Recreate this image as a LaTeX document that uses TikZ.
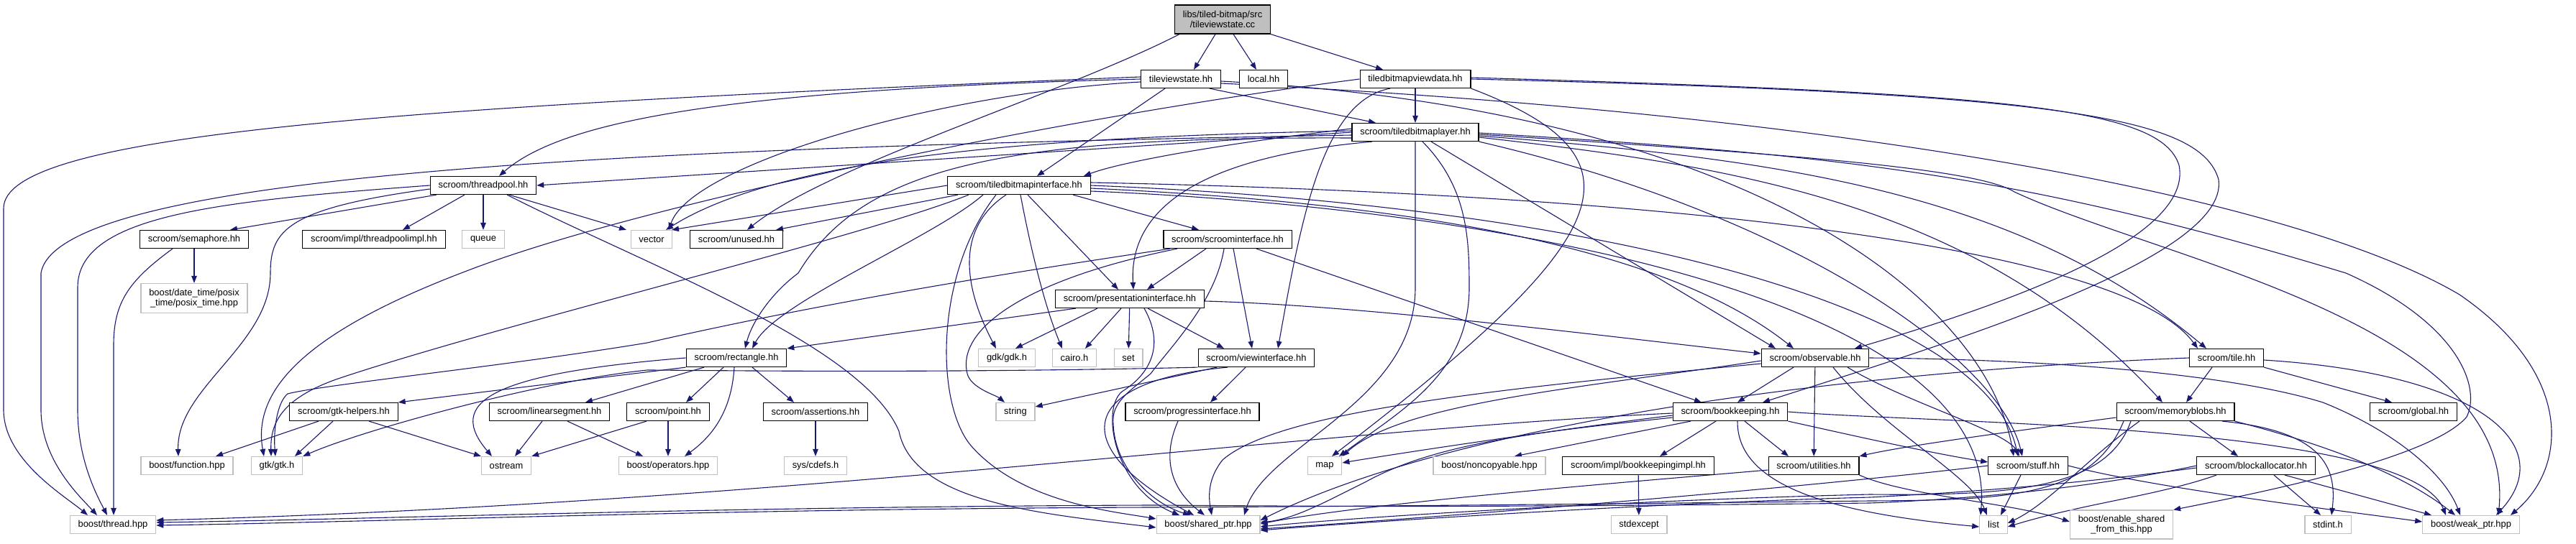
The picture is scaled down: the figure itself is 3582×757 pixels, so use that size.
\documentclass[tikz,border=0pt]{standalone}
\usepackage{fontspec}
\setmainfont{Liberation Sans}
\usetikzlibrary{arrows.meta,backgrounds}
\definecolor{edgeblue}{RGB}{25,25,112}
\definecolor{sysgray}{RGB}{191,191,191}

\begin{document}
\begin{tikzpicture}[x=1pt,y=1pt,font=\fontsize{12.9}{14.5}\selectfont,
  hdr/.style={draw=black,line width=1.2pt,fill=white,inner xsep=11.3pt,inner ysep=2pt,minimum height=25pt},
  syshdr/.style={hdr,draw=sysgray},
  srcfile/.style={hdr,fill=sysgray,align=center,minimum height=40pt},
  inc/.style={draw=edgeblue,line width=1.1pt,-{Triangle[length=10pt,width=7.5pt]}}]
\useasboundingbox (0,0) rectangle (3582,-757);

% files, row by row
\node[srcfile] (root) at (1700,-27) {libs/tiled-bitmap/src\\/tileviewstate.cc};
\node[hdr] (tvs) at (1642,-110) {tileviewstate.hh};
\node[hdr] (local) at (1757,-110) {local.hh};
\node[hdr] (tbvd) at (1968,-110) {tiledbitmapviewdata.hh};
\node[hdr] (tbl) at (1968,-184) {scroom/tiledbitmaplayer.hh};
\node[hdr] (tp) at (672,-258) {scroom/threadpool.hh};
\node[hdr] (tbi) at (1417,-258) {scroom/tiledbitmapinterface.hh};
\node[hdr] (sem) at (270,-333) {scroom/semaphore.hh};
\node[hdr] (tpi) at (520,-333) {scroom/impl/threadpoolimpl.hh};
\node[syshdr] (queue) at (672,-333) {queue};
\node[syshdr] (vector) at (906,-333) {vector};
\node[hdr] (unused) at (1024,-333) {scroom/unused.hh};
\node[hdr] (si) at (1707,-333) {scroom/scroominterface.hh};
\node[syshdr,align=center,minimum height=41pt] (dt) at (270,-415) {boost/date\_time/posix\\\_time/posix\_time.hpp};
\node[hdr] (pi) at (1571,-416) {scroom/presentationinterface.hh};
\node[hdr] (rect) at (1024,-498) {scroom/rectangle.hh};
\node[syshdr] (gdk) at (1400,-498) {gdk/gdk.h};
\node[syshdr] (cairo) at (1494,-498) {cairo.h};
\node[syshdr] (set) at (1569,-498) {set};
\node[hdr] (vi) at (1747,-498) {scroom/viewinterface.hh};
\node[hdr] (obs) at (2524,-498) {scroom/observable.hh};
\node[hdr] (tile) at (3096,-498) {scroom/tile.hh};
\node[hdr] (gtkh) at (478,-573) {scroom/gtk-helpers.hh};
\node[hdr] (lseg) at (764,-573) {scroom/linearsegment.hh};
\node[hdr] (point) at (929,-573) {scroom/point.hh};
\node[hdr] (assert) at (1134,-573) {scroom/assertions.hh};
\node[syshdr] (string) at (1412,-573) {string};
\node[hdr] (prog) at (1658,-573) {scroom/progressinterface.hh};
\node[hdr] (bk) at (2406,-573) {scroom/bookkeeping.hh};
\node[hdr] (mb) at (3025,-573) {scroom/memoryblobs.hh};
\node[hdr] (global) at (3356,-573) {scroom/global.hh};
\node[syshdr] (func) at (260,-648) {boost/function.hpp};
\node[syshdr] (gtk) at (385,-648) {gtk/gtk.h};
\node[syshdr] (ostream) at (704,-648) {ostream};
\node[syshdr] (ops) at (929,-648) {boost/operators.hpp};
\node[syshdr] (cdefs) at (1134,-648) {sys/cdefs.h};
\node[syshdr] (map) at (1842,-648) {map};
\node[syshdr] (nonc) at (2071,-648) {boost/noncopyable.hpp};
\node[hdr] (bki) at (2278,-648) {scroom/impl/bookkeepingimpl.hh};
\node[hdr] (util) at (2522,-648) {scroom/utilities.hh};
\node[hdr] (stuff) at (2820,-648) {scroom/stuff.hh};
\node[hdr] (ba) at (3137,-648) {scroom/blockallocator.hh};
\node[syshdr] (thread) at (157,-730) {boost/thread.hpp};
\node[syshdr] (sp) at (1680,-730) {boost/shared\_ptr.hpp};
\node[syshdr] (stdexcept) at (2279,-730) {stdexcept};
\node[syshdr] (list) at (2772,-730) {list};
\node[syshdr,align=center,minimum height=40pt] (esft) at (2950,-730) {boost/enable\_shared\\\_from\_this.hpp};
\node[syshdr] (stdint) at (3237,-730) {stdint.h};
\node[syshdr] (wp) at (3436,-730) {boost/weak\_ptr.hpp};

\begin{scope}[on background layer]
% tileviewstate.cc
\draw[inc] ([xshift=-10pt]root.south) -- ([xshift=18pt]tvs.north);
\draw[inc] ([xshift=15pt]root.south) -- ([xshift=-10pt]local.north);
\draw[inc] (root.south east) -- ([xshift=-45pt]tbvd.north);
\draw[inc] ([xshift=-60pt]root.south) .. controls (1480,-130) and (1150,-230) .. ([xshift=15pt]unused.north);
% tileviewstate.hh
\draw[inc] ([xshift=40pt]tvs.south) -- ([xshift=-55pt]tbl.north);
\draw[inc] ([xshift=-22pt]tvs.south) -- ([xshift=25pt]tbi.north);
\draw[inc] ([yshift=3pt]tvs.west) .. controls (500,-150) and (5,-190) .. (5,-290) -- (5,-570) .. controls (5,-640) and (90,-690) .. ([xshift=-35pt]thread.north);
\draw[inc] (tvs.west) .. controls (1000,-125) and (780,-170) .. ([xshift=22pt]tp.north);
\draw[inc] ([yshift=-4pt]tvs.west) .. controls (1300,-130) and (960,-230) .. ([xshift=24pt]vector.north);
\draw[inc] ([yshift=-3pt]tvs.east) .. controls (2400,-150) and (2760,-400) .. ([xshift=-20pt]stuff.north);
\draw[inc] ([yshift=-6pt]tvs.east) .. controls (2600,-160) and (3200,-280) .. (3420,-410) .. controls (3580,-520) and (3570,-650) .. ([xshift=55pt]wp.north);
% tiledbitmapviewdata.hh
\draw[inc] (tbvd) -- (tbl);
\draw[inc] ([xshift=-35pt]tbvd.south) .. controls (1840,-140) and (1810,-300) .. ([xshift=30pt]vi.north);
\draw[inc] (tbvd.south east) .. controls (2300,-220) and (2250,-330) .. ([xshift=10pt]map.north);
\draw[inc] ([yshift=2pt]tbvd.east) .. controls (2800,-130) and (3005,-150) .. (3030,-230) .. controls (3050,-330) and (2800,-420) .. ([xshift=55pt]obs.north);
\draw[inc] (tbvd.east) .. controls (2850,-130) and (3060,-160) .. (3085,-250) .. controls (3100,-360) and (2700,-480) .. ([xshift=45pt]bk.north);
\draw[inc] (tbvd.west) .. controls (1500,-160) and (900,-280) .. (649,-377) .. controls (430,-460) and (350,-540) .. ([xshift=-18pt]gtk.north);
% tiledbitmaplayer.hh
\draw[inc] (tbl.west) -- (tp.east);
\draw[inc] ([yshift=-4pt]tbl.west) .. controls (900,-205) and (80,-240) .. (57,-380) -- (57,-570) .. controls (57,-640) and (110,-690) .. ([xshift=-22pt]thread.north);
\draw[inc] ([yshift=2pt]tbl.west) .. controls (1500,-190) and (1100,-210) .. ([xshift=20pt]vector.north);
\draw[inc] ([yshift=5pt]tbl.west) .. controls (1700,-200) and (1560,-225) .. ([xshift=90pt]tbi.north);
\draw[inc] ([xshift=-60pt]tbl.south) .. controls (1650,-220) and (1570,-300) .. ([xshift=5pt]pi.north);
\draw[inc] ([yshift=-8pt]tbl.west) .. controls (1400,-190) and (1200,-230) .. (1110,-380) .. controls (1070,-410) and (1045,-450) .. ([xshift=12pt]rect.north);
\draw[inc] ([xshift=22pt]tbl.south) -- ([xshift=-55pt]obs.north);
\draw[inc] ([xshift=10pt]tbl.south) .. controls (2040,-260) and (2043,-330) .. (2043,-400) .. controls (2043,-520) and (1950,-570) .. ([xshift=20pt]map.north);
\draw[inc] (tbl.south) -- (1968,-400) .. controls (1968,-560) and (1760,-620) .. ([xshift=50pt]sp.north);
\draw[inc] ([yshift=-3pt]tbl.east) .. controls (2500,-215) and (2750,-235) .. (2801,-267) .. controls (3000,-360) and (3500,-450) .. ([xshift=38pt]wp.north);
\draw[inc] ([yshift=-1pt]tbl.east) .. controls (2550,-215) and (2800,-240) .. (3262,-380) .. controls (3420,-450) and (3450,-540) .. (3430,-580) .. controls (3380,-640) and (3120,-690) .. (esft.north east);
\draw[inc] ([yshift=-5pt]tbl.east) .. controls (2450,-220) and (2800,-260) .. ([xshift=-28pt]tile.north);
\draw[inc] ([yshift=-7pt]tbl.east) .. controls (2400,-230) and (2750,-280) .. ([xshift=-18pt]mb.north);
\draw[inc] (tbl.south east) .. controls (2500,-300) and (2780,-500) .. ([xshift=-8pt]stuff.north);
% threadpool.hh
\draw[inc] ([xshift=-65pt]tp.south) -- ([xshift=50pt]sem.north);
\draw[inc] ([xshift=-26pt]tp.south) -- ([xshift=40pt]tpi.north);
\draw[inc] (tp) -- (queue);
\draw[inc] ([xshift=36pt]tp.south) -- ([xshift=-35pt]vector.north);
\draw[inc] (tp.west) .. controls (300,-280) and (108,-300) .. (108,-400) -- (108,-570) .. controls (108,-640) and (135,-690) .. ([xshift=-8pt]thread.north);
\draw[inc] ([yshift=-5pt]tp.west) .. controls (400,-290) and (376,-320) .. (376,-380) .. controls (376,-480) and (245,-540) .. ([xshift=-12pt]func.north);
\draw[inc] ([xshift=33pt]tp.south) .. controls (900,-370) and (1200,-480) .. (1250,-600) .. controls (1270,-700) and (1450,-715) .. ([yshift=-4pt]sp.west);
% tiledbitmapinterface.hh
\draw[inc] ([xshift=75pt]tbi.south) -- ([xshift=-40pt]si.north);
\draw[inc] ([xshift=-85pt]tbi.south) -- ([xshift=55pt]unused.north);
\draw[inc] (tbi.west) -- ([xshift=28pt]vector.north);
\draw[inc] ([xshift=-70pt]tbi.south) .. controls (1200,-330) and (700,-450) .. (470,-527) .. controls (390,-555) and (376,-590) .. ([xshift=-8pt]gtk.north);
\draw[inc] ([xshift=-50pt]tbi.south) .. controls (1300,-330) and (1080,-420) .. ([xshift=22pt]rect.north);
\draw[inc] ([xshift=-32pt]tbi.south) .. controls (1300,-380) and (1300,-560) .. (1350,-620) .. controls (1420,-700) and (1550,-712) .. ([yshift=8pt]sp.west);
\draw[inc] ([xshift=-18pt]tbi.south) .. controls (1340,-310) and (1330,-380) .. ([xshift=-15pt]gdk.north);
\draw[inc] ([xshift=2pt]tbi.south) .. controls (1430,-330) and (1450,-420) .. ([xshift=-17pt]cairo.north);
\draw[inc] ([xshift=12pt]tbi.south) -- ([xshift=-16pt]pi.north);
\draw[inc] ([yshift=-8pt]tbi.east) .. controls (2100,-290) and (2780,-420) .. ([xshift=-18pt]list.north);
\draw[inc] ([yshift=-4pt]tbi.east) .. controls (1900,-280) and (2300,-330) .. ([xshift=-30pt]obs.north);
\draw[inc] ([yshift=4pt]tbi.east) .. controls (2300,-270) and (2950,-340) .. ([xshift=-40pt]tile.north);
\draw[inc] (tbi.east) .. controls (2200,-285) and (2760,-420) .. ([xshift=-14pt]stuff.north);
% scroominterface.hh
\draw[inc] ([xshift=-30pt]si.south) -- ([xshift=24pt]pi.north);
\draw[inc] ([xshift=8pt]si.south) -- ([xshift=-6pt]vi.north);
\draw[inc] ([xshift=-70pt]si.south) .. controls (1420,-390) and (1330,-460) .. (1345,-520) .. controls (1350,-540) and (1385,-550) .. ([xshift=-15pt]string.north);
\draw[inc] ([xshift=-80pt]si.south) .. controls (1400,-380) and (1150,-420) .. (900,-477) .. controls (700,-510) and (450,-535) .. (400,-548) .. controls (385,-560) and (380,-600) .. ([xshift=-2pt]gtk.north);
\draw[inc] ([xshift=40pt]si.south) -- ([xshift=-40pt]bk.north);
\draw[inc] ([xshift=-5pt]si.south) .. controls (1690,-420) and (1630,-480) .. (1600,-520) .. controls (1570,-545) and (1545,-560) .. (1548,-590) .. controls (1550,-650) and (1600,-700) .. ([xshift=-25pt]sp.north);
% presentationinterface.hh
\draw[inc] ([xshift=-45pt]pi.south) -- ([xshift=12pt]gdk.north);
\draw[inc] ([xshift=-12pt]pi.south) -- ([xshift=15pt]cairo.north);
\draw[inc] (pi) -- (set);
\draw[inc] ([xshift=25pt]pi.south) -- ([xshift=-45pt]vi.north);
\draw[inc] ([xshift=-75pt]pi.south) -- (rect.north east);
\draw[inc] ([yshift=-3pt]pi.east) .. controls (1900,-425) and (2250,-470) .. ([yshift=6pt]obs.west);
\draw[inc] ([xshift=20pt]pi.south) .. controls (1620,-480) and (1600,-520) .. (1560,-545) .. controls (1530,-570) and (1550,-680) .. ([xshift=-40pt]sp.north);
% viewinterface.hh
\draw[inc] ([xshift=-55pt]vi.south) -- ([yshift=7pt]string.east);
\draw[inc] ([xshift=-15pt]vi.south) -- ([xshift=25pt]prog.north);
\draw[inc] (vi.south west) .. controls (1300,-520) and (950,-515) .. (900,-515) .. controls (750,-530) and (500,-600) .. (gtk.north east);
\draw[inc] ([xshift=-40pt]vi.south) .. controls (1500,-530) and (1480,-620) .. ([xshift=-20pt]sp.north);
% progressinterface.hh
\draw[inc] ([xshift=-20pt]prog.south) .. controls (1610,-650) and (1640,-690) .. ([xshift=-5pt]sp.north);
% rectangle.hh
\draw[inc] (rect.south west) -- (gtkh.north east);
\draw[inc] ([xshift=-45pt]rect.south) -- ([xshift=50pt]lseg.north);
\draw[inc] ([xshift=-18pt]rect.south) -- ([xshift=25pt]point.north);
\draw[inc] ([xshift=-3pt]rect.south) .. controls (1018,-560) and (1000,-600) .. ([xshift=23pt]ops.north);
\draw[inc] ([xshift=22pt]rect.south) -- ([xshift=-30pt]assert.north);
\draw[inc] (rect.west) .. controls (680,-520) and (620,-560) .. ([xshift=-20pt]ostream.north);
% gtk-helpers.hh
\draw[inc] ([xshift=-35pt]gtkh.south) -- ([xshift=40pt]func.north);
\draw[inc] ([xshift=-15pt]gtkh.south) -- ([xshift=25pt]gtk.north);
\draw[inc] ([xshift=35pt]gtkh.south) -- ([xshift=-35pt]ostream.north);
% linearsegment.hh, point.hh, assertions.hh
\draw[inc] ([xshift=-10pt]lseg.south) -- ([xshift=12pt]ostream.north);
\draw[inc] ([xshift=25pt]lseg.south) -- ([xshift=-35pt]ops.north);
\draw[inc] ([xshift=-30pt]point.south) -- (ostream.north east);
\draw[inc] (point) -- (ops);
\draw[inc] (assert) -- (cdefs);
% semaphore.hh
\draw[inc] (sem) -- (dt);
\draw[inc] ([xshift=-30pt]sem.south) .. controls (180,-390) and (158,-420) .. (158,-480) -- ([xshift=1pt]thread.north);
% observable.hh
\draw[inc] ([xshift=-30pt]obs.south) -- ([xshift=10pt]bk.north);
\draw[inc] (obs) -- (util);
\draw[inc] ([yshift=-4pt]obs.west) .. controls (2200,-540) and (1950,-560) .. (map.north east);
\draw[inc] ([yshift=-8pt]obs.west) .. controls (2100,-540) and (1780,-570) .. (1700,-640) .. controls (1680,-665) and (1680,-690) .. ([xshift=5pt]sp.north);
\draw[inc] (obs.east) .. controls (2850,-500) and (3100,-520) .. (3230,-560) .. controls (3330,-600) and (3400,-660) .. ([xshift=-15pt]wp.north);
\draw[inc] ([xshift=25pt]obs.south) .. controls (2620,-600) and (2740,-660) .. ([xshift=-9pt]list.north);
\draw[inc] ([xshift=45pt]obs.south) .. controls (2650,-560) and (2790,-600) .. ([xshift=-12pt]stuff.north);
% bookkeeping.hh
\draw[inc] ([yshift=-5pt]bk.west) .. controls (2150,-600) and (1950,-630) .. ([yshift=4pt]map.east);
\draw[inc] ([xshift=-55pt]bk.south) -- ([xshift=35pt]nonc.north);
\draw[inc] ([xshift=-20pt]bk.south) -- ([xshift=30pt]bki.north);
\draw[inc] ([xshift=20pt]bk.south) -- ([xshift=-35pt]util.north);
\draw[inc] (bk.south east) .. controls (2550,-600) and (2680,-630) .. ([yshift=5pt]stuff.west);
\draw[inc] ([yshift=-8pt]bk.west) .. controls (2150,-600) and (2000,-615) .. (1900,-670) .. controls (1840,-700) and (1800,-722) .. ([yshift=3pt]sp.east);
\draw[inc] (bk.east) .. controls (2700,-590) and (3350,-590) .. ([xshift=-35pt]wp.north);
\draw[inc] ([xshift=10pt]bk.south) .. controls (2415,-680) and (2560,-715) .. ([yshift=-3pt]list.west);
\draw[inc] ([yshift=-2pt]bk.west) .. controls (1800,-600) and (1100,-700) .. ([yshift=6pt]thread.east);
% impl/bookkeepingimpl.hh
\draw[inc] (bki) -- (stdexcept);
% utilities.hh
\draw[inc] ([yshift=-6pt]util.west) .. controls (2250,-672) and (1900,-700) .. ([yshift=1pt]sp.east);
\draw[inc] (util.south east) .. controls (2650,-690) and (2800,-700) .. ([yshift=4pt]esft.west);
% stuff.hh
\draw[inc] (stuff.west) .. controls (2500,-680) and (2000,-720) .. ([yshift=-6pt]sp.east);
\draw[inc] (stuff.east) .. controls (3000,-680) and (3250,-710) .. ([yshift=4pt]wp.west);
\draw[inc] ([xshift=-10pt]stuff.south) -- ([xshift=10pt]list.north);
% tile.hh
\draw[inc] ([xshift=-20pt]tile.south) -- ([xshift=15pt]mb.north);
\draw[inc] (tile.south east) -- ([xshift=-30pt]global.north);
\draw[inc] ([yshift=-3pt]tile.east) .. controls (3450,-520) and (3560,-620) .. ([xshift=35pt]wp.north);
\draw[inc] (tile.west) .. controls (2500,-520) and (2000,-600) .. ([yshift=6pt]sp.east);
% memoryblobs.hh
\draw[inc] ([xshift=20pt]mb.south) -- ([xshift=-25pt]ba.north);
\draw[inc] ([xshift=65pt]mb.south) .. controls (3230,-600) and (3250,-650) .. ([xshift=5pt]stdint.north);
\draw[inc] (mb.south east) .. controls (3200,-610) and (3330,-650) .. ([xshift=-22pt]wp.north);
\draw[inc] ([yshift=-8pt]mb.west) .. controls (2800,-600) and (2650,-620) .. (util.north east);
\draw[inc] ([xshift=-50pt]mb.south) .. controls (2900,-640) and (2850,-700) .. ([yshift=2pt]list.east);
\draw[inc] ([xshift=-62pt]mb.south) .. controls (2930,-680) and (2800,-690) .. (2600,-688) .. controls (2300,-695) and (1900,-718) .. ([yshift=-3pt]sp.east);
\draw[inc] ([xshift=-72pt]mb.south) .. controls (2910,-690) and (2800,-696) .. (2600,-697) .. controls (2000,-704) and (1800,-705) .. (1600,-706) .. controls (1000,-708) and (500,-727) .. ([yshift=-1pt]thread.east);
% blockallocator.hh
\draw[inc] ([xshift=-55pt]ba.south) .. controls (3000,-690) and (2900,-700) .. ([yshift=-3pt]list.east);
\draw[inc] ([xshift=25pt]ba.south) -- ([xshift=-10pt]stdint.north);
\draw[inc] ([xshift=40pt]ba.south) -- ([xshift=-55pt]wp.north);
\draw[inc] ([yshift=-3pt]ba.west) .. controls (2950,-665) and (2800,-682) .. (2600,-692) .. controls (2300,-700) and (1900,-726) .. ([yshift=-8pt]sp.east);
\draw[inc] (ba.west) .. controls (2950,-670) and (2800,-692) .. (2600,-700) .. controls (2000,-707) and (1800,-704) .. (1600,-703) .. controls (1000,-705) and (500,-723) .. ([yshift=3pt]thread.east);
\end{scope}
\end{tikzpicture}
\end{document}
